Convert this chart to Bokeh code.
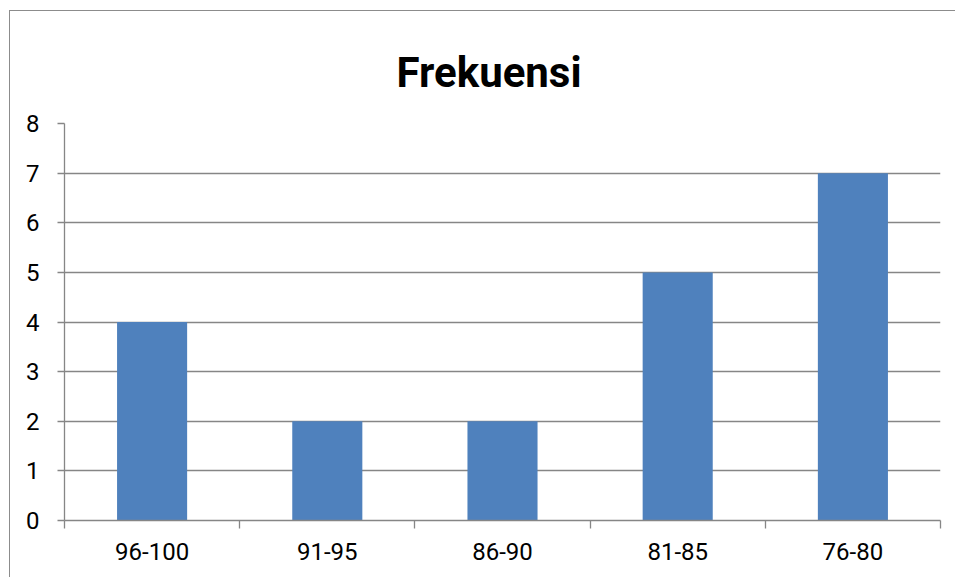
from bokeh.plotting import figure
from bokeh.models import Range1d, FixedTicker, LinearAxis, Grid, Title
from bokeh.embed import file_html
from bokeh.resources import INLINE

title_text = "Frekuensi"
categories = ["96-100", "91-95", "86-90", "81-85", "76-80"]
frequencies = [4, 2, 2, 5, 7]
y_ticks = [0, 1, 2, 3, 4, 5, 6, 7, 8]

BAR = "#4F81BD"
GRID = "#868686"
FONT = "Roboto"

n = len(categories)
centers = [i + 0.5 for i in range(n)]
bounds = [float(i) for i in range(n + 1)]

p = figure(width=946, height=567, output_backend="svg", toolbar_location=None,
           x_range=Range1d(0, n), y_range=Range1d(0, 8),
           x_axis_type=None, y_axis_type=None,
           min_border_left=54, min_border_right=16, min_border_top=112, min_border_bottom=58)
p.styles = {"border-left": "1px solid #8c8c8c", "border-top": "1px solid #8c8c8c",
            "margin-left": "9px", "margin-top": "10px"}
p.outline_line_color = None
p.background_fill_color = "white"
p.border_fill_color = "white"

p.title = Title(text=title_text, align="left", vertical_align="top", text_font=FONT,
                text_font_size="42px", text_font_style="bold", text_color="#000000",
                text_line_height=1.45, standoff=50, offset=332)

grid = Grid(dimension=1, ticker=FixedTicker(ticks=y_ticks),
            grid_line_color=GRID, grid_line_width=1.3)
p.add_layout(grid, "center")

p.vbar(x=centers, top=frequencies, width=0.4, bottom=0, fill_color=BAR, line_color=None)

# y axis
ya = LinearAxis(ticker=FixedTicker(ticks=y_ticks))
ya.axis_line_color = GRID
ya.axis_line_width = 1.3
ya.major_tick_line_color = GRID
ya.major_tick_line_width = 1.3
ya.major_tick_in = 0
ya.major_tick_out = 7
ya.minor_tick_line_color = None
ya.major_label_text_font = FONT
ya.major_label_text_font_size = "24px"
ya.major_label_text_color = "#000000"
ya.major_label_standoff = 18
p.add_layout(ya, "left")

# x axis: labels at centers, ticks at boundaries
xa = LinearAxis(ticker=FixedTicker(ticks=centers, minor_ticks=bounds))
xa.major_label_overrides = {c: lab for c, lab in zip(centers, categories)}
xa.axis_line_color = GRID
xa.axis_line_width = 1.5
xa.major_tick_line_color = None
xa.major_tick_in = 0
xa.major_tick_out = 8
xa.minor_tick_line_color = GRID
xa.minor_tick_line_width = 1.3
xa.minor_tick_in = 0
xa.minor_tick_out = 8
xa.major_label_text_font = FONT
xa.major_label_text_font_size = "24px"
xa.major_label_text_color = "#000000"
xa.major_label_standoff = 14
p.add_layout(xa, "below")

open("out.html", "w").write(file_html(p, INLINE))
